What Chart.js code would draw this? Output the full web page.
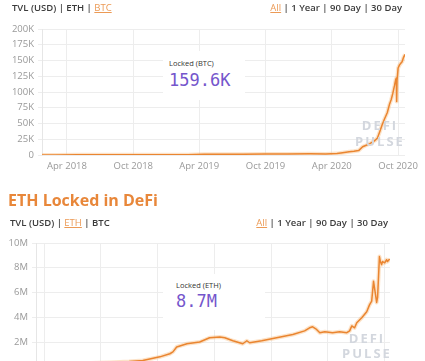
<!DOCTYPE html>
<html>
<head>
<meta charset="utf-8">
<script src="https://cdn.jsdelivr.net/npm/chart.js@4.4.0/dist/chart.umd.min.js"></script>
<style>
body { margin:0; width:425px; height:361px; overflow:hidden; background:#fff; font-family:"Open Sans", sans-serif; position:relative }
.abs { position:absolute; white-space:nowrap }
.nav { font-size:9.5px; font-weight:600; color:#3b3b3b; line-height:12px }
.on { color:#ec9a55; text-decoration:underline; font-weight:400 }
.title { font-size:16px; font-weight:700; color:#e8873a; line-height:20px }
.lbl { font-size:7.5px; color:#333; line-height:10px }
.big { font-family:"DejaVu Sans Mono", monospace; font-size:17px; color:#7556cc; line-height:20px }
.box { background:#fff }
.wm { font-weight:700; color:#d3d7de; text-align:center; letter-spacing:2px; font-size:13px; line-height:14px; width:80px }
canvas { position:absolute; left:0 }
</style>
</head>
<body>
<canvas id="btc" width="425" height="185" style="top:0"></canvas>
<canvas id="eth" width="425" height="200" style="top:200px"></canvas>

<div class="abs nav" style="left:12px;top:2px">TVL (USD) | ETH | <span class="on">BTC</span></div>
<div class="abs nav" style="right:23px;top:2px"><span class="on">All</span> | 1 Year | 90 Day | 30 Day</div>

<div class="abs box" style="left:163px;top:51px;width:82px;height:49px"></div>
<div class="abs lbl" style="left:169px;top:58px">Locked (BTC)</div>
<div class="abs big" style="left:169px;top:70px">159.6K</div>
<div class="abs wm" style="left:340px;top:118px">DEFI</div>
<div class="abs wm" style="left:340px;top:134px">PULSE</div>

<div class="abs title" style="left:8px;top:190px">ETH Locked in DeFi</div>
<div class="abs nav" style="left:10px;top:217px">TVL (USD) | <span class="on">ETH</span> | BTC</div>
<div class="abs nav" style="right:37px;top:217px"><span class="on">All</span> | 1 Year | 90 Day | 30 Day</div>

<div class="abs box" style="left:163px;top:274px;width:102px;height:56px"></div>
<div class="abs lbl" style="left:176px;top:280px">Locked (ETH)</div>
<div class="abs big" style="left:176px;top:291px">8.7M</div>
<div class="abs wm" style="left:327px;top:331px">DEFI</div>
<div class="abs wm" style="left:327px;top:346px">PULSE</div>

<script>
// BTC locked (BTC)
const btcDates = ['2018-01-22','2018-03-01','2018-05-01','2018-07-01','2018-09-01','2018-11-01','2019-01-01','2019-03-01','2019-04-15','2019-06-01','2019-08-01','2019-10-01','2019-12-01','2020-02-01','2020-03-15','2020-04-15','2020-04-26','2020-05-10','2020-05-19','2020-06-01','2020-06-14','2020-06-25','2020-07-05','2020-07-15','2020-07-23','2020-07-29','2020-08-05','2020-08-12','2020-08-18','2020-08-25','2020-09-01','2020-09-07','2020-09-12','2020-09-16','2020-09-21','2020-09-24','2020-09-26','2020-09-27','2020-09-28','2020-10-01','2020-10-05','2020-10-09','2020-10-12','2020-10-16','2020-10-20']
const btcValues = [50,120,200,250,300,350,400,500,1200,1300,1200,1400,1500,1800,1700,2200,3200,4500,5200,5800,7000,13000,15500,18000,21000,23000,27000,38000,48000,58000,67000,80000,88000,97000,110000,119000,122000,85000,118000,138000,143000,146000,148000,155000,159600]

// ETH locked (ETH)
const ethDates = ['2017-09-05','2017-11-01','2018-01-01','2018-03-01','2018-05-01','2018-07-01','2018-08-14','2018-10-08','2018-11-09','2018-11-19','2018-12-01','2019-01-03','2019-02-13','2019-03-17','2019-04-19','2019-05-05','2019-05-31','2019-07-02','2019-07-15','2019-07-24','2019-09-01','2019-10-19','2019-12-10','2020-01-17','2020-02-02','2020-02-12','2020-02-22','2020-03-06','2020-03-22','2020-04-16','2020-05-09','2020-06-01','2020-06-10','2020-06-17','2020-06-26','2020-07-03','2020-07-19','2020-08-04','2020-08-13','2020-08-20','2020-08-26','2020-08-29','2020-09-05','2020-09-08','2020-09-14','2020-09-17','2020-09-21','2020-09-24','2020-10-01','2020-10-07','2020-10-10','2020-10-17']
const ethValues = [0.02,0.08,0.2,0.3,0.35,0.42,0.5,0.8,1.05,1.2,1.6,1.86,2.0,2.34,2.4,2.34,2.1,1.86,2.1,1.94,2.1,2.34,2.6,2.9,3.15,3.23,3.07,2.75,2.83,2.75,2.83,2.75,2.9,3.3,3.15,3.55,3.96,4.44,5.0,5.3,6.9,6.4,5.2,5.6,8.9,8.5,8.25,8.5,8.4,8.65,8.5,8.7].map(v => v * 1e6)

const btcTickDates = ['2018-04-01','2018-10-01','2019-04-01','2019-10-01','2020-04-01','2020-10-01']
const btcTickLabels = ['Apr 2018','Oct 2018','Apr 2019','Oct 2019','Apr 2020','Oct 2020']
const ethTickDates = ['2017-10-01','2018-04-01','2018-10-01','2019-04-01','2019-10-01','2020-04-01','2020-10-01']
const ethTickLabels = ['Oct 2017','Apr 2018','Oct 2018','Apr 2019','Oct 2019','Apr 2020','Oct 2020']
const btcYTicks = [0,25000,50000,75000,100000,125000,150000,175000,200000]
const ethYTicks = [0,2e6,4e6,6e6,8e6,10e6]

const day = s => (Date.parse(s) - Date.parse('2018-01-01')) / 864e5
const pts = (d, v) => d.map((s, i) => ({ x: day(s), y: v[i] }))
const fmt = v => v == 0 ? '0' : v >= 1e6 ? (v / 1e6) + 'M' : (v / 1e3) + 'K'

function lineChart(id, dates, values, xMin, xMax, tickDates, tickLabels, yTicks, yWidth, pad) {
  const data = pts(dates, values)
  const tickDays = tickDates.map(day)
  return new Chart(document.getElementById(id), {
    type: 'line',
    data: {
      datasets: [
        { data: data, borderColor: '#ea8530', borderWidth: 1.5, borderJoinStyle: 'round', pointRadius: 0, tension: 0 },
        { data: data, borderColor: 'rgba(248,185,120,0.4)', borderWidth: 4, borderJoinStyle: 'round', pointRadius: 0, tension: 0 }
      ]
    },
    options: {
      responsive: false,
      animation: false,
      layout: { padding: pad },
      plugins: { legend: { display: false }, tooltip: { enabled: false } },
      scales: {
        x: {
          type: 'linear', min: xMin, max: xMax,
          afterBuildTicks: s => { s.ticks = tickDays.map(v => ({ value: v })) },
          afterFit: s => { s.height = 20 },
          grid: { color: '#ededed', drawTicks: false },
          border: { display: false },
          ticks: { color: '#999', font: { family: 'Open Sans', size: 9.5 }, padding: 6, maxRotation: 0, autoSkip: false,
                   callback: (v, i) => tickLabels[i] }
        },
        y: {
          min: yTicks[0], max: yTicks[yTicks.length - 1],
          afterBuildTicks: s => { s.ticks = yTicks.map(v => ({ value: v })) },
          afterFit: s => { s.width = yWidth },
          grid: { color: '#ededed', tickLength: 4 },
          border: { color: '#e6e6e6' },
          ticks: { color: '#999', font: { family: 'Open Sans', size: 9.5 }, padding: 4, callback: v => fmt(v) }
        }
      }
    }
  })
}

lineChart('btc', btcDates, btcValues, 21, 1023, btcTickDates, btcTickLabels, btcYTicks, 42,
  { top: 29, right: 20, bottom: 10, left: 0 })
lineChart('eth', ethDates, ethValues, -119, 1021, ethTickDates, ethTickLabels, ethYTicks, 36,
  { top: 43, right: 35, bottom: 13.25, left: 0 })
</script>
</body>
</html>
